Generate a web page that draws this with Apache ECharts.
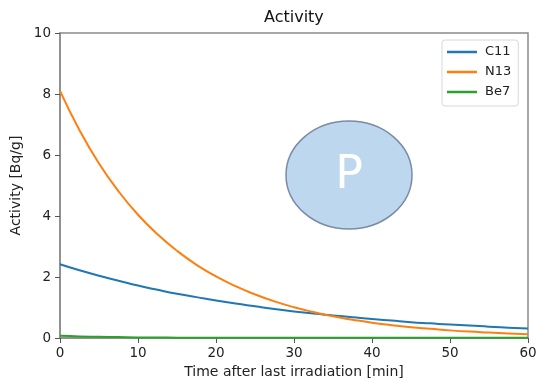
<!DOCTYPE html>
<html><head><meta charset="utf-8">
<script src="https://cdn.jsdelivr.net/npm/echarts@6/dist/echarts.min.js"></script>
<style>html,body{margin:0;padding:0;background:#fff}#c{width:539px;height:381px}</style>
</head><body><div id="c"></div>
<script>
const times = [0,2.5,5,7.5,10,12.5,15,17.5,20,22.5,25,27.5,30,32.5,35,37.5,40,42.5,45,47.5,50,52.5,55,57.5,60];
const c11 = [2.42,2.22,2.04,1.88,1.72,1.58,1.45,1.34,1.23,1.13,1.04,0.95,0.87,0.80,0.74,0.68,0.62,0.57,0.52,0.48,0.44,0.41,0.37,0.34,0.31];
const n13 = [8.10,6.81,5.72,4.81,4.04,3.40,2.86,2.40,2.02,1.70,1.43,1.20,1.01,0.85,0.71,0.60,0.50,0.42,0.35,0.30,0.25,0.21,0.18,0.15,0.12];
const be7 = [0.07,0.05,0.04,0.03,0.02,0.02,0.01,0.01,0.01,0.01,0.01,0.01,0.01,0.01,0.01,0.01,0.01,0.01,0.01,0.01,0.01,0.01,0.01,0.01,0.01];
const seriesNames = ['C11','N13','Be7'];
const xTicks = [0,10,20,30,40,50,60];
const yTicks = [0,2,4,6,8,10];
const font = 'DejaVu Sans';
const pair = arr => times.map((t,i)=>[t,arr[i]]);
const colors = ['#1f77b4','#ff7f0e','#2ca02c'];
const chart = echarts.init(document.getElementById('c'));
const axisCommon = {
  axisLine:{show:true,lineStyle:{color:'#8a8a8a',width:1.5}},
  axisTick:{show:true,inside:false,length:5,lineStyle:{color:'#555'}},
  splitLine:{show:false},
  axisLabel:{color:'#222',fontFamily:font,fontSize:13.5},
  nameTextStyle:{color:'#222',fontFamily:font,fontSize:14}
};
chart.setOption({
  animation:false,
  title:{text:'Activity',left:264,top:10,padding:0,textStyle:{fontFamily:font,fontSize:16,fontWeight:'normal',color:'#111'}},
  grid:{left:60,right:11,top:33,bottom:43,containLabel:false,outerBoundsMode:'none',show:true,borderColor:'#8a8a8a',borderWidth:1.5,backgroundColor:'#fff'},
  legend:{orient:'vertical',left:442,top:40,data:seriesNames,icon:'rect',itemWidth:30,itemHeight:2.5,itemGap:6,
    backgroundColor:'#fff',borderColor:'#d8d8d8',borderWidth:1,borderRadius:3,padding:[5,7,7,5],
    textStyle:{fontFamily:font,fontSize:13,lineHeight:14,color:'#222',padding:[0,0,0,3]}},
  xAxis:Object.assign({type:'value',min:0,max:60,interval:10,name:'Time after last irradiation [min]',nameLocation:'middle',nameGap:27},axisCommon,
    {axisLabel:Object.assign({},axisCommon.axisLabel,{margin:8,formatter:v=>xTicks.includes(v)?String(v):''})}),
  yAxis:Object.assign({type:'value',min:0,max:10,interval:2,name:'Activity [Bq/g]',nameLocation:'middle',nameGap:35},axisCommon,
    {axisLabel:Object.assign({},axisCommon.axisLabel,{margin:9,formatter:v=>yTicks.includes(v)?String(v):''})}),
  series:[
    {name:seriesNames[0],type:'line',data:pair(c11),smooth:true,showSymbol:false,lineStyle:{width:2,color:colors[0]},itemStyle:{color:colors[0]},z:3},
    {name:seriesNames[1],type:'line',data:pair(n13),smooth:true,showSymbol:false,lineStyle:{width:2,color:colors[1]},itemStyle:{color:colors[1]},z:3},
    {name:seriesNames[2],type:'line',data:pair(be7),smooth:true,showSymbol:false,lineStyle:{width:2,color:colors[2]},itemStyle:{color:colors[2]},z:2}
  ],
  graphic:[
    {type:'ellipse',shape:{cx:349,cy:175,rx:63,ry:54},style:{fill:'#bdd7ee',stroke:'#7a8ba3',lineWidth:1.5},z:10},
    {type:'text',x:349,y:176,style:{text:'P',fill:'#fff',fontFamily:font,fontSize:46,align:'center',verticalAlign:'middle'},z:11}
  ]
});
</script></body></html>
